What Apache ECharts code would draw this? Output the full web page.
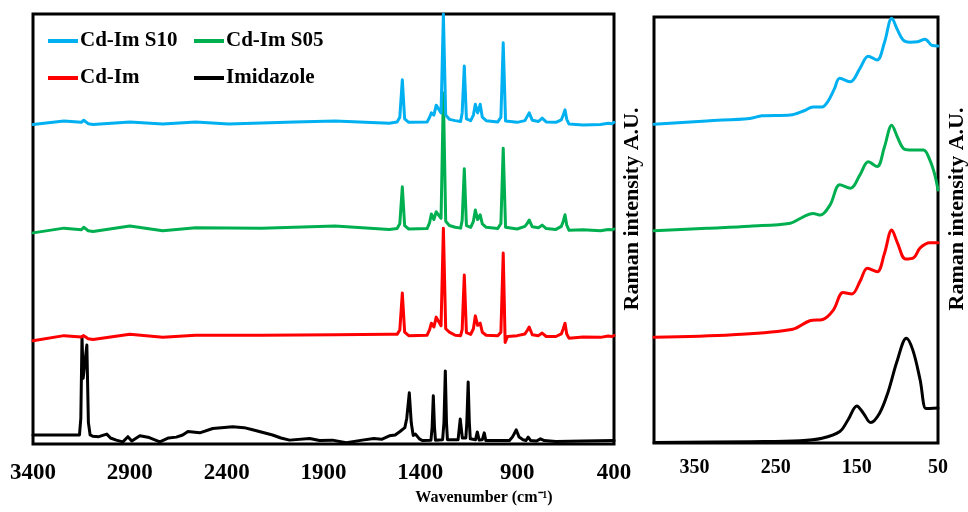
<!DOCTYPE html>
<html>
<head>
<meta charset="utf-8">
<script src="https://cdn.jsdelivr.net/npm/echarts@6/dist/echarts.min.js"></script>
<style>html,body{margin:0;padding:0;background:#fff}#c{width:968px;height:512px}</style>
</head>
<body>
<div id="c"></div>
<script>
// ---------- DATA ----------
var seriesNames = ['Cd-Im S10', 'Cd-Im S05', 'Cd-Im', 'Imidazole'];
var leftTicks = [3400, 2900, 2400, 1900, 1400, 900, 400];
var rightTicks = [350, 250, 150, 50];
var xTitle = 'Wavenumber (cm\u207B\u00B9)';
var yTitle = 'Raman intensity A.U.';

// Left panel (wavenumber, displayed intensity incl. vertical offset)
var s10Left = [[3400,74.3],[3240,75.1],[3150,74.8],[3138,75.3],[3128,75.2],[3115,74.5],[3090,74.3],[2900,74.9],[2730,74.4],[2560,74.9],[2390,74.4],[2050,74.9],[1840,75.1],[1560,74.6],[1520,74.9],[1506,76],[1493,84.7],[1481,75.6],[1460,74.8],[1365,74.9],[1352,76.0],[1343,77.0],[1330,76.5],[1318,78.8],[1293,77],[1281,100],[1269,76.5],[1250,75.5],[1220,75.2],[1192,75.0],[1184,77],[1173,87.9],[1162,75.6],[1140,75.2],[1126,76.5],[1116,79],[1104,77],[1091,79],[1080,76],[1060,75.2],[1000,74.9],[984,76],[972,93.3],[960,75.1],[950,74.7],[900,74.8],[860,75.2],[848,76.2],[838,77],[822,75.3],[790,75],[771,75.8],[750,74.9],[700,74.8],[672,75.4],[662,76.5],[653,77.7],[644,75.5],[632,74.4],[560,74.2],[470,74.3],[430,74.6],[410,74.5],[400,74.8]];
var s05Left = [[3400,49.1],[3240,50.2],[3150,49.8],[3138,50.4],[3128,50.3],[3115,49.6],[3090,49.4],[2900,50.7],[2730,49.6],[2560,50.3],[2220,50.2],[1840,50.7],[1560,49.9],[1520,50.1],[1506,51.2],[1493,59.8],[1481,50.8],[1460,50.0],[1365,50.1],[1352,51.5],[1343,53.5],[1330,52.2],[1318,54.0],[1293,52.5],[1281,81.6],[1269,51.8],[1250,50.8],[1220,50.4],[1192,50.2],[1184,52],[1173,64.0],[1162,50.8],[1140,50.4],[1126,51.8],[1116,54.4],[1104,52.2],[1091,53.3],[1080,51.2],[1060,50.4],[1000,50.1],[984,51.3],[972,68.8],[960,50.4],[950,50.0],[900,50.0],[860,50.6],[848,51.3],[838,52.1],[822,50.5],[790,50.3],[771,50.9],[750,50.1],[700,49.9],[672,50.6],[662,51.8],[653,53.3],[644,50.9],[632,49.7],[560,49.8],[470,49.6],[430,49.9],[410,49.8],[400,50.0]];
var cdimLeft = [[3400,24.0],[3240,25.2],[3150,24.9],[3138,25.2],[3128,25.0],[3115,24.5],[3090,24.3],[2900,25.5],[2730,24.8],[2560,25.3],[2220,25.3],[1840,25.4],[1560,25.5],[1520,25.5],[1506,26.5],[1493,35.1],[1481,26.0],[1460,25.2],[1365,25.3],[1352,26.6],[1343,28.1],[1330,27.2],[1318,29.5],[1293,27.5],[1281,50.2],[1269,26.8],[1250,26.0],[1220,25.3],[1192,25.2],[1184,26.6],[1173,39.3],[1162,25.9],[1140,25.5],[1126,26.8],[1116,29.8],[1104,27.6],[1091,28.1],[1080,26.0],[1060,25.3],[1000,25.2],[984,26.0],[972,44.4],[962,23.6],[950,25.0],[900,25.2],[860,25.6],[848,26.4],[838,27.2],[822,25.4],[790,25.2],[771,25.8],[750,25.0],[700,25.0],[672,25.6],[662,26.8],[653,28.1],[644,25.6],[632,24.6],[560,24.9],[470,24.8],[430,25.1],[410,25.0],[400,25.2]];
var imidLeft = [[3400,2.1],[3160,2.1],[3153,6],[3147,24.9],[3141,15.3],[3133,15.3],[3122,23.0],[3114,5],[3105,2.1],[3090,1.8],[3060,1.7],[3040,2.0],[3019,2.3],[3000,1.4],[2970,0.9],[2936,0.5],[2910,1.7],[2890,0.7],[2848,1.9],[2800,1.5],[2745,0.5],[2700,1.4],[2660,1.6],[2627,2.1],[2600,2.9],[2539,2.6],[2472,3.6],[2369,4.0],[2310,3.8],[2266,3.3],[2163,2.1],[2120,1.4],[2075,0.9],[1972,1.3],[1920,0.8],[1854,0.9],[1782,0.3],[1700,0.9],[1640,1.3],[1600,1.1],[1560,1.9],[1530,2.1],[1505,2.9],[1480,3.8],[1470,6],[1457,11.9],[1447,5],[1437,2.0],[1425,2.3],[1405,1.2],[1390,0.8],[1345,0.9],[1339,4],[1333,11.2],[1327,4],[1322,0.9],[1285,1.0],[1278,5],[1271,17],[1265,5],[1260,1.0],[1205,1.0],[1194,5.8],[1183,1.4],[1165,1.4],[1160,5],[1153,14.4],[1147,5],[1142,1.2],[1115,1.0],[1106,2.8],[1096,0.9],[1080,1.0],[1070,2.6],[1062,0.8],[940,0.8],[925,1.6],[915,2.4],[905,3.3],[890,1.6],[870,1.0],[855,0.8],[843,1.6],[830,0.8],[800,0.7],[780,1.2],[760,0.8],[700,0.6],[560,0.7],[400,0.8]];

// Right panel (low wavenumber region)
var s10Right = [[400,74.8],[335,75.6],[282,76.2],[267,76.8],[232,77.0],[215,78.0],[204,78.9],[193,78.9],[186,80.1],[178,83.0],[171,85.6],[158,84.8],[146,88.0],[136,90.8],[125,89.9],[116,94.0],[107,99.7],[100,97.0],[93,94.6],[85,94.1],[75,94.2],[66,94.8],[57,93.3],[50,93.2]];
var s05Right = [[400,49.8],[335,50.4],[282,50.9],[232,51.6],[216,53.1],[204,53.9],[195,53.5],[183,55.9],[171,60.6],[158,59.8],[146,63.0],[136,66.0],[125,64.9],[116,69.5],[107,74.6],[100,71.8],[93,69.2],[85,68.8],[68,68.8],[60,66.4],[54,63.0],[50,59.4]];
var cdimRight = [[400,24.8],[303,25.4],[229,26.7],[208,28.7],[192,29.0],[179,31.2],[167,35.3],[156,35.0],[146,38.0],[137,41.0],[125,40.2],[116,44.5],[107,50.0],[100,47.0],[90,43.2],[80,43.5],[72,45.8],[60,47.0],[50,47.0]];
var imidRight = [[400,0.1],[282,0.3],[220,0.5],[193,1.1],[171,2.7],[161,5.4],[150,8.7],[142,7.0],[133,4.8],[122,7.0],[112,11.7],[100,19.5],[89,24.6],[81,21.8],[72,14.8],[65,8.1],[60,8.1],[50,8.2]];

// ---------- CHART ----------
var colors = ['#00B0F0', '#00B050', '#FF0000', '#000000'];
var FONT = '"Liberation Serif", "Times New Roman", serif';
var chart = echarts.init(document.getElementById('c'), null, {renderer: 'canvas'});

function xAxisCfg(gridIndex, min, max, ticks, fs, margin) {
  return {
    type: 'value', gridIndex: gridIndex, min: min, max: max, interval: 50, inverse: true,
    axisLine: {show: false}, axisTick: {show: false}, splitLine: {show: false},
    axisLabel: {
      margin: margin, fontFamily: FONT, fontWeight: 'bold', fontSize: fs, color: '#000',
      showMinLabel: true, showMaxLabel: true,
      formatter: function (v) { return ticks.indexOf(Math.round(v)) >= 0 ? String(Math.round(v)) : ''; }
    }
  };
}
function yAxisCfg(gridIndex) {
  return {type: 'value', gridIndex: gridIndex, min: 0, max: 100, show: false};
}
function lineSeries(name, data, idx, xi, smooth) {
  return {
    name: name, type: 'line', xAxisIndex: xi, yAxisIndex: xi, data: data,
    showSymbol: false, symbol: 'none', smooth: smooth, animation: false,
    lineStyle: {width: 3, color: colors[idx], join: 'round', cap: 'round'},
    itemStyle: {color: colors[idx]}, clip: true, z: 3 + (3 - idx)
  };
}
function legendCfg(name, left, top) {
  return {
    data: [name], left: left, top: top, padding: 0, icon: 'rect',
    itemWidth: 30, itemHeight: 4, itemGap: 0, selectedMode: false,
    textStyle: {fontFamily: FONT, fontWeight: 'bold', fontSize: 21, color: '#000', padding: [0, 0, 0, -3], lineHeight: 24}
  };
}

var leftData = [s10Left, s05Left, cdimLeft, imidLeft];
var rightData = [s10Right, s05Right, cdimRight, imidRight];
var series = [];
seriesNames.forEach(function (n, i) { series.push(lineSeries(n, leftData[i], i, 0, false)); });
seriesNames.forEach(function (n, i) { series.push(lineSeries(n, rightData[i], i, 1, 0.35)); });

chart.setOption({
  backgroundColor: '#fff',
  animation: false,
  grid: [
    {left: 33, top: 14, width: 581, height: 430, show: true, borderColor: '#000', borderWidth: 3, backgroundColor: 'transparent'},
    {left: 654, top: 17, width: 284, height: 426, show: true, borderColor: '#000', borderWidth: 3, backgroundColor: 'transparent'}
  ],
  xAxis: [xAxisCfg(0, 400, 3400, leftTicks, 23, 18), xAxisCfg(1, 50, 400, rightTicks, 20, 15)],
  yAxis: [yAxisCfg(0), yAxisCfg(1)],
  legend: [
    legendCfg(seriesNames[0], 48, 29),
    legendCfg(seriesNames[1], 194, 29),
    legendCfg(seriesNames[2], 48, 66),
    legendCfg(seriesNames[3], 194, 66)
  ],
  graphic: [
    {type: 'text', x: 632, y: 209, rotation: Math.PI / 2, silent: true,
      style: {text: yTitle, font: 'bold 22px ' + FONT, fill: '#000', textAlign: 'center', textVerticalAlign: 'middle'}},
    {type: 'text', x: 957, y: 209, rotation: Math.PI / 2, silent: true,
      style: {text: yTitle, font: 'bold 22px ' + FONT, fill: '#000', textAlign: 'center', textVerticalAlign: 'middle'}},
    {type: 'text', x: 484, y: 498, silent: true,
      style: {text: xTitle, font: 'bold 16px ' + FONT, fill: '#000', textAlign: 'center', textVerticalAlign: 'middle'}}
  ],
  series: series
});
</script>
</body>
</html>
